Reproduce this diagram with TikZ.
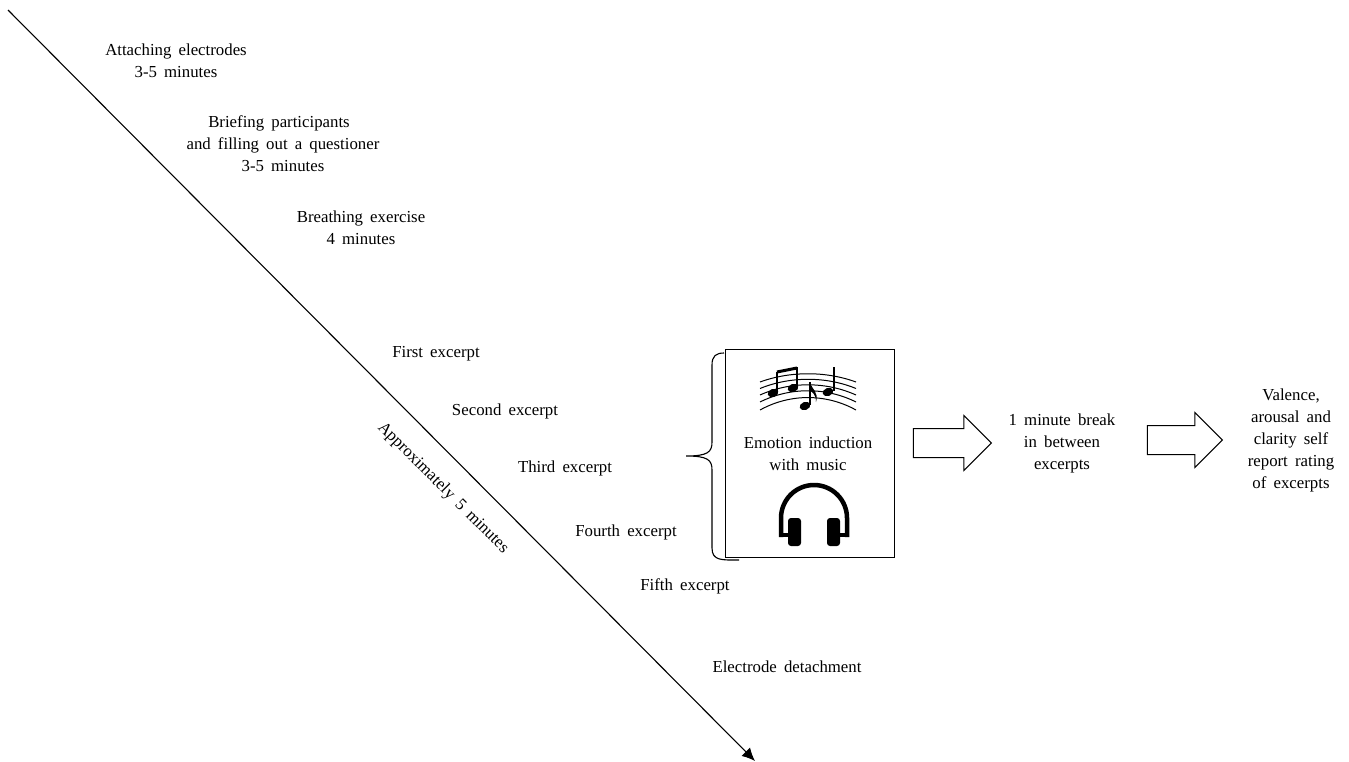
\documentclass[tikz,border=0pt]{standalone}
\usepackage{fontspec}
\setmainfont[WordSpace=1.7]{Liberation Serif}
\usetikzlibrary{shapes.arrows,arrows.meta}
\tikzset{
  lbl/.style={align=center,inner sep=0pt,font=\fontsize{16.8}{22}\selectfont},
  blockarrow/.style={draw,single arrow,single arrow head extend=13pt,minimum height=#1,
    minimum width=54pt,inner sep=14pt,line width=1pt,anchor=tip},
  staffline/.style={line width=1pt},
  notehead/.style={fill=black,shift={#1},rotate=20}
}
\begin{document}
\begin{tikzpicture}[x=1pt,y=-1pt]
  \useasboundingbox (0,0) rectangle (1349,761);
  % time line
  \coordinate (start) at (8,10);
  \coordinate (end) at (755,761);
  \draw[-{Latex[length=13pt,width=12pt]},line width=1.1pt] (start)--(end);
  \node[lbl,rotate=-45] (duration) at (443,488) {Approximately 5 minutes};
  \node[lbl] (attach) at (176,61) {Attaching electrodes\\3-5 minutes};
  \node[lbl] (brief) at (283,144) {\hspace*{-8pt}Briefing participants\\and filling out a questioner\\3-5 minutes};
  \node[lbl] (breath) at (361,228) {Breathing exercise\\4 minutes};
  \node[lbl,anchor=base] (first) at (436,357) {First excerpt};
  \node[lbl,anchor=base] (second) at (505,415) {Second excerpt};
  \node[lbl,anchor=base] (third) at (565,472) {Third excerpt};
  \node[lbl,anchor=base] (fourth) at (626,536) {Fourth excerpt};
  \node[lbl,anchor=base] (fifth) at (685,590) {Fifth excerpt};
  \node[lbl,anchor=base] (detach) at (787,672) {Electrode detachment};
  % emotion box
  \node[draw,line width=1pt,minimum width=169pt,minimum height=208pt,inner sep=0pt] (induction) at (809.5,453) {};
  \node[lbl] (induction text) at (808,454) {Emotion induction\\with music};
  \draw[line width=1.1pt] (739,560) .. controls (722,560) and (712,561) .. (712,548)
    -- (712,470) .. controls (712,460) and (708,456) .. (686,456)
    .. controls (708,456) and (712,452) .. (712,442)
    -- (712,365) .. controls (712,356) and (716,353) .. (724,353);
  % music notes
  \foreach \dy in {0,6.5,13,20,28}
    \draw[staffline] (760,382+\dy) .. controls (790,{371+0.8*\dy}) and (826,{371+0.8*\dy}) .. (856,382+\dy);
  \fill[notehead={(773,393)}] (0,0) ellipse (5.5pt and 4pt);
  \fill[notehead={(793,388)}] (0,0) ellipse (5.5pt and 4pt);
  \fill[notehead={(805,406)}] (0,0) ellipse (5.5pt and 4pt);
  \fill[notehead={(828,392)}] (0,0) ellipse (5.5pt and 4pt);
  \draw[line width=1.3pt] (777,392)--(777,372);
  \draw[line width=1.3pt] (797,387)--(797,367);
  \draw[line width=3pt] (777,372)--(797,368);
  \draw[line width=1.3pt] (810,405)--(810,382);
  \fill (810,382) .. controls (812,390) and (819,392) .. (816,402) .. controls (816,394) and (812,392) .. (810,391) -- cycle;
  \draw[line width=1.5pt] (834,391)--(834,367);
  % headphones
  \draw[line width=4.5pt] (781,537)--(781,518) arc[start angle=180,end angle=360,radius=33] --(847,537);
  \draw[line width=4.5pt] (781,535)--(790,535) (847,535)--(838,535);
  \fill[rounded corners=3pt] (788,518) rectangle (801,546);
  \fill[rounded corners=3pt] (827,518) rectangle (840,546);
  % steps after the excerpts
  \node[blockarrow=78pt] (arrow one) at (992,443) {};
  \node[lbl] (break) at (1062,443) {1 minute break\\in between\\excerpts};
  \node[blockarrow=75pt] (arrow two) at (1223,440) {};
  \node[lbl] (rating) at (1291,440) {Valence,\\arousal and\\clarity self\\report rating\\of excerpts};
\end{tikzpicture}
\end{document}
